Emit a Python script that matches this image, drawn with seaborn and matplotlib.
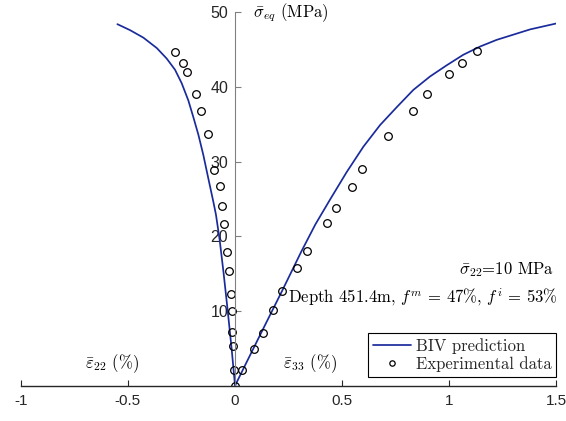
import numpy as np
import pandas as pd
import matplotlib
matplotlib.use("Agg")
import matplotlib.pyplot as plt
import seaborn as sns

# BIV prediction curve (strain %, stress MPa)
curve_strain = [-0.549, -0.490, -0.428, -0.365, -0.319, -0.280, -0.249, -0.218, -0.195,
                -0.171, -0.148, -0.125, -0.101, -0.089, -0.072, -0.053, -0.034, -0.016,
                0.0, 0.036, 0.086, 0.131, 0.218, 0.31, 0.375, 0.443, 0.521, 0.599,
                0.677, 0.755, 0.832, 0.910, 0.988, 1.065, 1.143, 1.221, 1.299, 1.377, 1.5]
curve_stress = [48.4, 47.6, 46.6, 45.2, 43.8, 42.3, 40.5, 38.2, 36.0,
                33.6, 30.9, 27.8, 24.6, 22.9, 19.6, 15.0, 10.0, 5.0,
                0.0, 2.1, 5.0, 7.6, 12.6, 18.0, 21.6, 24.9, 28.6, 32.0,
                34.9, 37.3, 39.6, 41.4, 42.9, 44.3, 45.4, 46.3, 47.0, 47.7, 48.5]

# experimental data, lateral (eps22) and axial (eps33) branches
exp22_strain = [-0.280, -0.244, -0.225, -0.183, -0.159, -0.127, -0.097, -0.070, -0.059,
                -0.053, -0.039, -0.027, -0.020, -0.014, -0.015, -0.008, -0.003, 0.0]
exp22_stress = [44.7, 43.2, 42.0, 39.1, 36.8, 33.7, 28.9, 26.7, 24.0,
                21.6, 17.9, 15.4, 12.3, 10.0, 7.2, 5.3, 2.1, 0.0]
exp33_strain = [0.033, 0.090, 0.132, 0.176, 0.219, 0.289, 0.337, 0.429, 0.471,
                0.545, 0.594, 0.714, 0.832, 0.897, 1.0, 1.061, 1.129]
exp33_stress = [2.1, 4.9, 7.1, 10.2, 12.7, 15.7, 18.0, 21.8, 23.8,
                26.6, 29.0, 33.4, 36.8, 39.1, 41.7, 43.2, 44.8]

x_ticks = [-1, -0.5, 0, 0.5, 1, 1.5]
x_ticklabels = ["-1", "-0.5", "0", "0.5", "1", "1.5"]
y_ticks = [10, 20, 30, 40, 50]

sns.set_style("white")
plt.rcParams["mathtext.fontset"] = "cm"
plt.rcParams["font.family"] = ["Liberation Sans", "DejaVu Sans"]

curve = pd.DataFrame({"strain": curve_strain, "stress": curve_stress})
exp = pd.DataFrame({"strain": exp22_strain + exp33_strain,
                    "stress": exp22_stress + exp33_stress})

fig = plt.figure(figsize=(5.66, 4.21), dpi=100)
ax = fig.add_axes([0.0366, 0.0838, 0.9466, 0.8872])

sns.lineplot(data=curve, x="strain", y="stress", ax=ax, color="#1a2b9b",
             linewidth=1.25, sort=False, estimator=None, label="BIV prediction")
ax.plot(exp["strain"], exp["stress"], linestyle="none", marker="o", markersize=5.5,
        markerfacecolor="none", markeredgecolor="black", markeredgewidth=0.9,
        label="Experimental data")

ax.set_xlim(-1, 1.5)
ax.set_ylim(0, 50)
ax.set_xlabel("")
ax.set_ylabel("")

# axes through the origin
ax.spines["left"].set_position(("data", 0))
ax.spines["left"].set_color("#808080")
ax.spines["right"].set_visible(False)
ax.spines["top"].set_visible(False)
ax.spines["bottom"].set_color("#262626")
ax.spines["bottom"].set_linewidth(1.0)

ax.set_xticks(x_ticks)
ax.set_xticklabels(x_ticklabels)
ax.set_yticks(y_ticks)
ax.tick_params(axis="x", direction="in", length=4, width=0.8, colors="#262626",
               labelsize=11, pad=6, bottom=True)
ax.tick_params(axis="y", direction="in", length=4, width=0.8, colors="#808080",
               labelcolor="#262626", labelsize=11.5, pad=5, left=True)
ax.grid(False)

cm = dict(fontsize=12, color="black", family="cmr10")
ax.text(0.084, 50, r"$\bar{\sigma}_{eq}$ (MPa)", ha="left", va="center", **cm)
ax.text(-0.70, 1.4, r"$\bar{\varepsilon}_{22}$ (%)", ha="left", va="bottom", **cm)
ax.text(0.224, 1.4, r"$\bar{\varepsilon}_{33}$ (%)", ha="left", va="bottom", **cm)
ax.text(1.49, 15.6, r"$\bar{\sigma}_{22}$=10 MPa", ha="right", va="center", **cm)
ax.text(0.249, 11.8, r"Depth 451.4m, $f^m$ = 47%, $f^i$ = 53%",
        ha="left", va="center", **cm)

leg = ax.legend(loc="lower right", bbox_to_anchor=(1.0, 0.024), frameon=True,
                fancybox=False, edgecolor="black", framealpha=1, markerscale=0.7,
                handlelength=2.3, handletextpad=0.3, borderpad=0.3,
                borderaxespad=0.0, labelspacing=0.1,
                prop={"family": "cmr10", "size": 12})
leg.get_frame().set_linewidth(0.8)

fig.savefig("out.png", dpi=100)
